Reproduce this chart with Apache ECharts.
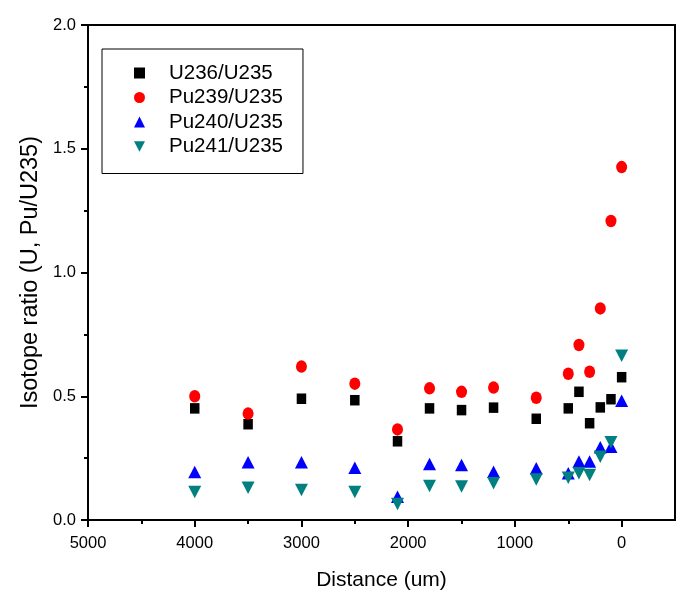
<!DOCTYPE html>
<html>
<head>
<meta charset="utf-8">
<script src="https://cdn.jsdelivr.net/npm/echarts@6/dist/echarts.min.js"></script>
<style>html,body{margin:0;padding:0;background:#fff}#c{width:698px;height:607px}</style>
</head>
<body>
<div id="c"></div>
<script>
var distances = [4000, 3500, 3000, 2500, 2100, 1800, 1500, 1200, 800, 500, 400, 300, 200, 100, 0];
var u236 = [0.451, 0.387, 0.490, 0.484, 0.318, 0.451, 0.444, 0.454, 0.409, 0.451, 0.518, 0.391, 0.455, 0.488, 0.577];
var pu239 = [0.500, 0.430, 0.620, 0.551, 0.366, 0.532, 0.518, 0.535, 0.494, 0.591, 0.707, 0.599, 0.855, 1.208, 1.426];
var pu240 = [0.194, 0.233, 0.233, 0.211, 0.094, 0.226, 0.222, 0.195, 0.209, 0.189, 0.236, 0.236, 0.294, 0.296, 0.482];
var pu241 = [0.113, 0.130, 0.121, 0.113, 0.065, 0.137, 0.135, 0.148, 0.164, 0.171, 0.189, 0.182, 0.256, 0.314, 0.664];
var xMajorTicks = [0, 1000, 2000, 3000, 4000, 5000];
var xMinorTicks = [500, 1500, 2500, 3500, 4500];
var seriesNames = ['U236/U235', 'Pu239/U235', 'Pu240/U235', 'Pu241/U235'];

function pairs(ys) { return distances.map(function (d, i) { return [d, ys[i]]; }); }

var font = 'Liberation Sans, Arial, sans-serif';
var downTri = 'path://M0,0 L2,0 L1,1.9 Z';
var chart = echarts.init(document.getElementById('c'), null, {renderer: 'canvas'});
chart.setOption({
  animation: false,
  backgroundColor: '#fff',
  grid: {left: 88, right: 23, top: 25, bottom: 87, show: true, borderColor: '#000', borderWidth: 2, backgroundColor: 'transparent'},
  legend: {
    left: 102, top: 49, orient: 'vertical',
    data: [
      {name: seriesNames[0]},
      {name: seriesNames[1]},
      {name: seriesNames[2]},
      {name: seriesNames[3], icon: downTri}
    ],
    itemWidth: 11, itemHeight: 11, itemGap: 2.5,
    padding: [13, 20, 16, 32],
    borderColor: '#000', borderWidth: 1,
    textStyle: {fontFamily: font, fontSize: 20.5, color: '#000', lineHeight: 22, padding: [0, 0, 0, 19]}
  },
  xAxis: [{
    type: 'value', inverse: true, min: -500, max: 5000, interval: 500,
    splitLine: {show: false},
    axisLine: {show: true, onZero: false, lineStyle: {color: '#000', width: 2}},
    axisTick: {show: true, length: 7, customValues: xMajorTicks, lineStyle: {color: '#000', width: 2}},
    axisLabel: {customValues: xMajorTicks, margin: 15, fontFamily: font, fontSize: 16.5, color: '#000', formatter: function (v) { return String(v); }},
    name: 'Distance (um)', nameLocation: 'middle', nameGap: 50,
    nameTextStyle: {fontFamily: font, fontSize: 21, color: '#000'}
  }, {
    type: 'value', inverse: true, min: -500, max: 5000, interval: 500, position: 'bottom',
    splitLine: {show: false},
    axisLine: {show: false},
    axisTick: {show: true, length: 4, customValues: xMinorTicks, lineStyle: {color: '#000', width: 2}},
    axisLabel: {show: false}
  }],
  yAxis: {
    type: 'value', min: 0, max: 2, interval: 0.5,
    splitLine: {show: false},
    axisLine: {show: true, onZero: false, lineStyle: {color: '#000', width: 2}},
    axisTick: {show: true, length: 7, lineStyle: {color: '#000', width: 2}},
    minorTick: {show: true, splitNumber: 2, length: 4, lineStyle: {color: '#000', width: 2}},
    axisLabel: {margin: 12, fontFamily: font, fontSize: 16.5, color: '#000', formatter: function (v) { return v.toFixed(1); }},
    name: 'Isotope ratio (U, Pu/U235)', nameLocation: 'middle', nameGap: 38,
    nameTextStyle: {fontFamily: font, fontSize: 23.5, color: '#000'}
  },
  series: [
    {name: seriesNames[0], type: 'scatter', symbol: 'rect', symbolSize: [9.5, 10.5], itemStyle: {color: '#000000', opacity: 1}, data: pairs(u236)},
    {name: seriesNames[1], type: 'scatter', symbol: 'circle', symbolSize: [11, 12.5], itemStyle: {color: '#ff0000', opacity: 1}, data: pairs(pu239)},
    {name: seriesNames[2], type: 'scatter', symbol: 'triangle', symbolSize: [13, 12.5], itemStyle: {color: '#0000ff', opacity: 1}, data: pairs(pu240)},
    {name: seriesNames[3], type: 'scatter', symbol: downTri, symbolSize: [13, 12.5], itemStyle: {color: '#008080', opacity: 1}, data: pairs(pu241)}
  ]
});
</script>
</body>
</html>
